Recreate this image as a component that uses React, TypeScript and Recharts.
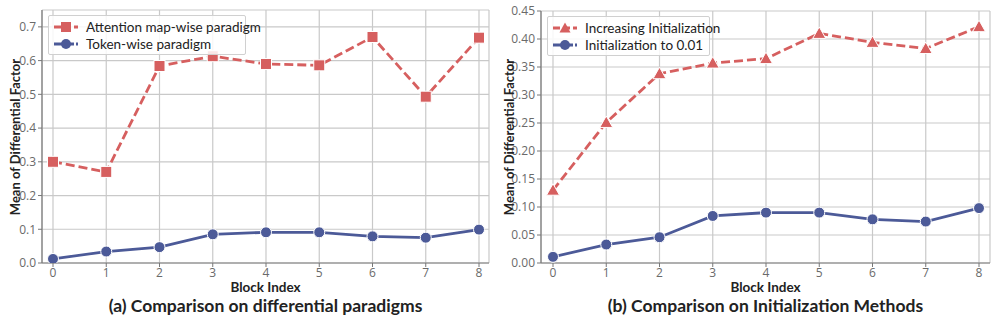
import React from 'react';
import { LineChart, Line, XAxis, YAxis, CartesianGrid } from 'recharts';

const blockIndex = [0, 1, 2, 3, 4, 5, 6, 7, 8];
const attentionMapWise = [0.3, 0.27, 0.584, 0.613, 0.59, 0.586, 0.67, 0.493, 0.668];
const tokenWise = [0.012, 0.034, 0.047, 0.085, 0.091, 0.091, 0.079, 0.075, 0.099];
const increasingInit = [0.13, 0.251, 0.338, 0.357, 0.365, 0.41, 0.394, 0.383, 0.422];
const initTo001 = [0.011, 0.033, 0.046, 0.084, 0.09, 0.09, 0.078, 0.074, 0.098];
const yTicksA = [0, 0.1, 0.2, 0.3, 0.4, 0.5, 0.6, 0.7];
const yTicksB = [0, 0.05, 0.1, 0.15, 0.2, 0.25, 0.3, 0.35, 0.4, 0.45];

const RED = '#d65f5f';
const BLUE = '#4c5a98';
const FONT = '"Open Sans", sans-serif';
const BOLD_FONT = 'Lato, sans-serif';

const SquareDot = (props: any) => {
  const { cx, cy } = props;
  if (cx == null || cy == null) return null;
  return <rect x={cx - 5.5} y={cy - 5.5} width={11} height={11} fill={RED} stroke="#fff" strokeWidth={1} />;
};

const TriangleDot = (props: any) => {
  const { cx, cy } = props;
  if (cx == null || cy == null) return null;
  return <path d={`M${cx},${cy - 6.5} L${cx + 6.5},${cy + 5} L${cx - 6.5},${cy + 5} Z`} fill={RED} stroke="#fff" strokeWidth={1} />;
};

const CircleDot = (props: any) => {
  const { cx, cy } = props;
  if (cx == null || cy == null) return null;
  return <circle cx={cx} cy={cy} r={5.5} fill={BLUE} stroke="#fff" strokeWidth={1} />;
};

type Marker = 'square' | 'circle' | 'triangle';

function LegendIcon({ color, marker, dashed }: { color: string; marker: Marker; dashed: boolean }) {
  return (
    <svg width={26} height={12} style={{ marginRight: 7, flex: 'none' }}>
      <line x1={1} y1={6} x2={25} y2={6} stroke={color} strokeWidth={2.8} strokeDasharray={dashed ? '7 3' : '9 2'} />
      {marker === 'square' && <rect x={8} y={1} width={10} height={10} fill={color} />}
      {marker === 'circle' && <circle cx={13} cy={6} r={5} fill={color} />}
      {marker === 'triangle' && <path d="M13,0.5 L18.5,10.5 L7.5,10.5 Z" fill={color} />}
    </svg>
  );
}

interface PanelProps {
  left: number;
  red: number[];
  blue: number[];
  yMax: number;
  yTicks: number[];
  yFmt: (v: number) => string;
  yAxisWidth: number;
  marginTop: number;
  marginRight: number;
  padLeft: number;
  padRight: number;
  legendItems: { label: string; color: string; marker: Marker; dashed: boolean }[];
  legendPos: { left: number; top: number; width: number };
  redMarker: (p: any) => any;
  caption: string;
  yLabelX: number;
}

function Panel(p: PanelProps) {
  const data = blockIndex.map((b, i) => ({ block: b, red: p.red[i], blue: p.blue[i] }));
  const tick = { fontSize: 12, fill: '#6a6a6a', fontFamily: FONT };
  const plotLeft = p.yAxisWidth;
  const plotRight = 500 - p.marginRight;
  const center = (plotLeft + plotRight) / 2;
  return (
    <div style={{ position: 'absolute', left: p.left, top: 0, width: 500, height: 322 }}>
      <LineChart width={500} height={322} data={data} margin={{ top: p.marginTop, right: p.marginRight, bottom: 39, left: 0 }}>
        <CartesianGrid stroke="#c9c9c9" strokeWidth={1.2} />
        <XAxis
          dataKey="block"
          type="number"
          domain={[0, 8]}
          ticks={blockIndex}
          padding={{ left: p.padLeft, right: p.padRight }}
          tick={tick}
          tickLine={{ stroke: '#777' }}
          tickSize={4}
          tickMargin={1}
          axisLine={{ stroke: '#7a7a7a', strokeWidth: 1.2 }}
          height={20}
        />
        <XAxis xAxisId="top" orientation="top" dataKey="block" type="number" domain={[0, 8]} tick={false} tickLine={false} height={0} axisLine={{ stroke: '#7a7a7a', strokeWidth: 1.2 }} />
        <YAxis
          domain={[0, p.yMax]}
          ticks={p.yTicks}
          tickFormatter={p.yFmt}
          tick={tick}
          tickLine={{ stroke: '#777' }}
          tickSize={4}
          axisLine={{ stroke: '#7a7a7a', strokeWidth: 1.2 }}
          width={p.yAxisWidth}
          allowDataOverflow
        />
        <YAxis yAxisId="right" orientation="right" domain={[0, p.yMax]} tick={false} tickLine={false} width={0} axisLine={{ stroke: '#7a7a7a', strokeWidth: 1.2 }} />
        <Line dataKey="red" stroke={RED} strokeWidth={2.8} strokeDasharray="9 4" dot={p.redMarker} isAnimationActive={false} />
        <Line dataKey="blue" stroke={BLUE} strokeWidth={2.8} dot={CircleDot} isAnimationActive={false} />
      </LineChart>
      <div
        style={{
          position: 'absolute',
          left: p.legendPos.left,
          top: p.legendPos.top,
          width: p.legendPos.width,
          boxSizing: 'border-box',
          border: '1px solid #d0d0d0',
          background: 'rgba(255,255,255,0.85)',
          padding: '2px 4px',
          borderRadius: 2,
        }}
      >
        {p.legendItems.map((it) => (
          <div key={it.label} style={{ display: 'flex', alignItems: 'center', height: 17, fontFamily: BOLD_FONT, fontSize: 13.5, color: '#222', whiteSpace: 'nowrap' }}>
            <LegendIcon color={it.color} marker={it.marker} dashed={it.dashed} />
            {it.label}
          </div>
        ))}
      </div>
      <div style={{ position: 'absolute', left: center - 100, width: 200, top: 280, height: 14, lineHeight: '14px', textAlign: 'center', fontFamily: BOLD_FONT, fontWeight: 700, fontSize: 13.5, color: '#222' }}>
        Block Index
      </div>
      <div style={{ position: 'absolute', left: center - 230, width: 460, top: 296, height: 20, lineHeight: '20px', textAlign: 'center', fontFamily: BOLD_FONT, fontWeight: 700, fontSize: 17.5, color: '#222' }}>
        {p.caption}
      </div>
      <div
        style={{
          position: 'absolute',
          left: p.yLabelX - 120,
          top: 137 - 10,
          width: 240,
          height: 20,
          lineHeight: '20px',
          textAlign: 'center',
          transform: 'rotate(-90deg)',
          fontFamily: BOLD_FONT,
          fontWeight: 700,
          fontSize: 13,
          color: '#222',
        }}
      >
        Mean of Differential Factor
      </div>
    </div>
  );
}

export default function App() {
  return (
    <div style={{ position: 'absolute', left: 0, top: 0, width: 997, height: 322, background: '#fff', overflow: 'hidden' }}>
      <Panel
        left={0}
        red={attentionMapWise}
        blue={tokenWise}
        yMax={0.75}
        yTicks={yTicksA}
        yFmt={(v) => v.toFixed(1)}
        yAxisWidth={42}
        marginTop={10}
        marginRight={11}
        padLeft={11}
        padRight={10}
        legendItems={[
          { label: 'Attention map-wise paradigm', color: RED, marker: 'square', dashed: true },
          { label: 'Token-wise paradigm', color: BLUE, marker: 'circle', dashed: false },
        ]}
        legendPos={{ left: 48, top: 15, width: 198 }}
        redMarker={SquareDot}
        caption="(a) Comparison on differential paradigms"
        yLabelX={15}
      />
      <Panel
        left={497}
        red={increasingInit}
        blue={initTo001}
        yMax={0.45}
        yTicks={yTicksB}
        yFmt={(v) => v.toFixed(2)}
        yAxisWidth={44}
        marginTop={11}
        marginRight={7}
        padLeft={12}
        padRight={11}
        legendItems={[
          { label: 'Increasing Initialization', color: RED, marker: 'triangle', dashed: true },
          { label: 'Initialization to 0.01', color: BLUE, marker: 'circle', dashed: false },
        ]}
        legendPos={{ left: 50, top: 16, width: 163 }}
        redMarker={TriangleDot}
        caption="(b) Comparison on Initialization Methods"
        yLabelX={12}
      />
    </div>
  );
}
